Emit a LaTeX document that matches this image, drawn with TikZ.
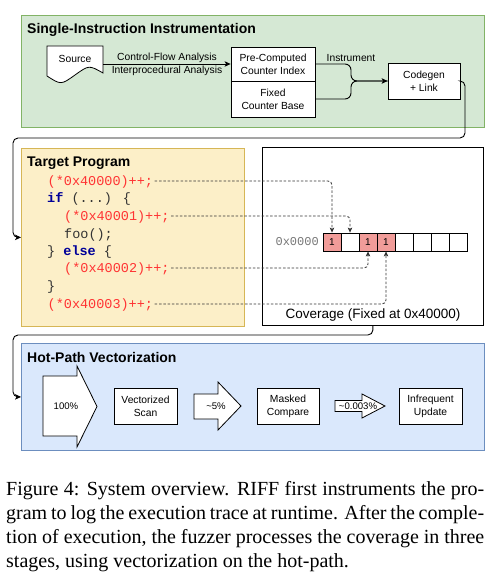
\documentclass[tikz,border=0pt]{standalone}
\usepackage{fontspec}
\usetikzlibrary{arrows.meta}
\newfontfamily\arialf{Liberation Sans}
\newfontfamily\timesf{Liberation Serif}
\newfontfamily\courf{Liberation Mono}
\definecolor{gfill}{HTML}{D5E8D4}
\definecolor{gline}{HTML}{82B366}
\definecolor{yfill}{HTML}{FCEFC8}
\definecolor{yline}{HTML}{D6B656}
\definecolor{bfill}{HTML}{DAE8FC}
\definecolor{bline}{HTML}{6C8EBF}
\definecolor{pink}{HTML}{F19C99}
\definecolor{codered}{HTML}{FF3333}
\definecolor{kw}{HTML}{000099}
\definecolor{codegrey}{HTML}{333333}
\definecolor{addrgrey}{HTML}{777777}
\tikzset{
  region/.style={draw, line width=0.8pt, inner sep=0, anchor=north west},
  box/.style={draw=black, fill=white, line width=0.8pt, align=center, inner sep=0,
    font=\arialf\fontsize{10.3}{12.8}\selectfont},
  lbl/.style={inner sep=0, align=center, font=\arialf\fontsize{10.3}{12.4}\selectfont},
  pct/.style={inner sep=0, font=\arialf\fontsize{9.6}{11}\selectfont},
  ttl/.style={anchor=base west, inner sep=0, font=\arialf\bfseries\fontsize{14}{16}\selectfont},
  conn/.style={line width=0.9pt, -{Stealth[length=6pt,width=5.5pt,inset=1.5pt]}},
  dconn/.style={line width=0.8pt, dash pattern=on 2.5pt off 1.8pt, draw=black!80,
    -{Stealth[length=5pt,width=4.5pt,inset=1.2pt]}, rounded corners=4pt},
  code/.style={anchor=west, inner sep=0, text height=8pt, text depth=0pt,
    font=\courf\fontsize{13.5}{16}\selectfont},
  cell/.style={draw, line width=0.8pt, minimum size=18pt, inner sep=0,
    font=\arialf\fontsize{10}{12}\selectfont},
  bigarrow/.style={draw, fill=white, line width=0.8pt, line join=miter},
}
\begin{document}
\begin{tikzpicture}[x=1pt,y=-1pt]
\useasboundingbox (0,0) rectangle (495,578);

% ---------- Regions ----------
\node[region, draw=gline, fill=gfill, minimum width=463pt, minimum height=112pt] (si) at (21,15) {};
\node[region, draw=yline, fill=yfill, minimum width=223pt, minimum height=178pt] (tp) at (21,148) {};
\node[region, draw=black, fill=white, minimum width=221pt, minimum height=178pt] (cov) at (262,147) {};
\node[region, draw=bline, fill=bfill, minimum width=463pt, minimum height=107pt] (hp) at (21,343) {};

% ---------- Titles ----------
\node[ttl] (t1) at (27,34) {Single-Instruction Instrumentation};
\node[ttl] (t2) at (27,166.5) {Target Program};
\node[ttl] (t3) at (27,362) {Hot-Path Vectorization};

% ---------- Top section ----------
\node[minimum width=56pt, minimum height=34pt, inner sep=0] (src) at (75,64) {};
\draw[line width=0.8pt, fill=white] (47,46) -- (103,46) -- (103,73)
  .. controls (89,65) .. (75,75) .. controls (61,85) .. (47,76) -- cycle;
\node[lbl] (srclbl) at (75,59) {Source};

\node[box, minimum width=84pt, minimum height=34pt] (pc) at (273,64) {Pre-Computed\\Counter Index};
\node[box, minimum width=84pt, minimum height=36pt] (fx) at (273,99) {Fixed\\Counter Base};
\node[box, minimum width=72pt, minimum height=36pt] (cg) at (424,81) {Codegen\\+ Link};

\draw[conn] (src.east) -- (src.east -| pc.west);
\node[lbl] (cfa) at (167,64.5) {Control-Flow Analysis\\Interprocedural Analysis};

\draw[line width=0.9pt, rounded corners=6pt] (fx.east) -| (351,81) -- (cg.west);
\draw[conn, rounded corners=6pt] (pc.east) -| (351,81) -- (cg.west);
\node[lbl] (instr) at (351,58) {Instrument};

\draw[conn, rounded corners=5pt] (cg.east) -| (465,138) -- (13,138) |- (tp.west);

% ---------- Target program code ----------
\node[code, text=codered] (l1) at (47.5,181) {(*0x40000)++;};
\node[code, text=codegrey] (l2) at (47,198) {{\color{kw}\bfseries if} (...) \{};
\node[code, text=codered] (l3) at (64,216) {(*0x40001)++;};
\node[code, text=codegrey] (l4) at (64,234) {foo();};
\node[code, text=codegrey] (l5) at (47,251) {\} {\color{kw}\bfseries else} \{};
\node[code, text=codered] (l6) at (64,268) {(*0x40002)++;};
\node[code, text=codegrey] (l7) at (47,286) {\}};
\node[code, text=codered] (l8) at (47.5,304) {(*0x40003)++;};

% ---------- Coverage ----------
\node[cell, fill=pink] (c1) at (332,242) {1};
\node[cell] (c2) at (350,242) {};
\node[cell, fill=pink] (c3) at (368,242) {1};
\node[cell, fill=pink] (c4) at (386,242) {1};
\node[cell] (c5) at (404,242) {};
\node[cell] (c6) at (422,242) {};
\node[cell] (c7) at (440,242) {};
\node[cell] (c8) at (458,242) {};
\node[anchor=east, inner sep=0, text=addrgrey, font=\courf\fontsize{12}{14}\selectfont] (addr) at (319,242) {0x0000};
\node[inner sep=0, font=\arialf\fontsize{13.5}{16}\selectfont] (covlbl) at (373,315) {Coverage (Fixed at 0x40000)};

\draw[dconn, shorten <=1.5pt] (l1.east) -| (c1.north);
\draw[dconn, shorten <=1.5pt] (l3.east) -| (c2.north);
\draw[dconn, shorten <=1.5pt] (l6.east) -| (c3.south);
\draw[dconn, shorten <=1.5pt] (l8.east) -| (c4.south);

\draw[conn, rounded corners=5pt] (cov.south) |- (13,335) |- (hp.west);

% ---------- Hot path ----------
\draw[bigarrow] (43,376) -- (77,376) -- (77,366) -- (97,406.5) -- (77,447) -- (77,436) -- (43,436) -- cycle;
\node[pct] (p1) at (66,406) {100\%};
\node[box, minimum width=63pt, minimum height=36pt] (vs) at (145.5,406) {Vectorized\\Scan};
\draw[bigarrow] (194,394) -- (218,394) -- (218,382) -- (241,406) -- (218,430) -- (218,419) -- (194,419) -- cycle;
\node[pct] (p2) at (216,406) {\textasciitilde5\%};
\node[box, minimum width=62pt, minimum height=36pt] (mc) at (288,406) {Masked\\Compare};
\draw[bigarrow] (335,400.5) -- (362,400.5) -- (362,394) -- (385,406) -- (362,418) -- (362,411.5) -- (335,411.5) -- cycle;
\node[pct] (p3) at (358,406) {\textasciitilde0.003\%};
\node[box, minimum width=63pt, minimum height=36pt] (iu) at (430.5,406) {Infrequent\\Update};

% ---------- Caption ----------
\node[anchor=north west, inner sep=0, align=left, font=\timesf\fontsize{20}{24}\selectfont] (cap) at (6,481) {%
\makebox[478pt][s]{Figure 4: System overview. RIFF first instruments the pro-}\\
\makebox[478pt][s]{gram to log the execution trace at runtime. After the comple-}\\
\makebox[478pt][s]{tion of execution, the fuzzer processes the coverage in three}\\
\makebox[478pt][l]{stages, using vectorization on the hot-path.}};
\end{tikzpicture}
\end{document}
